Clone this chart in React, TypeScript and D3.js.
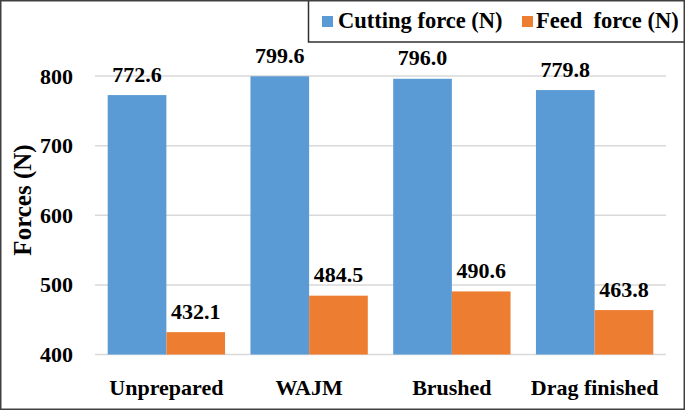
import React from "react";
import * as d3 from "d3";

const categories = ["Unprepared", "WAJM", "Brushed", "Drag finished"];
const seriesNames = ["Cutting force (N)", "Feed  force (N)"];
const cuttingForce = [772.6, 799.6, 796.0, 779.8];
const feedForce = [432.1, 484.5, 490.6, 463.8];
const yTicks = [400, 500, 600, 700, 800];
const colors = ["#5b9bd5", "#ed7d31"];

const W = 685;
const H = 410;
const txt: React.CSSProperties = { fontFamily: "Liberation Serif", fontWeight: 700, whiteSpace: "pre" };

export default function App() {
  const x = d3
    .scaleBand<string>()
    .domain(categories)
    .range([95, 666])
    .paddingInner(0.178)
    .paddingOuter(0.089);
  const xs = d3
    .scaleBand<string>()
    .domain(seriesNames)
    .range([0, x.bandwidth()]);
  const y = d3.scaleLinear().domain([400, 800]).range([354.5, 76]);
  const seriesValues = [cuttingForce, feedForce];

  return (
    <svg
      width={W}
      height={H}
      style={{ position: "absolute", left: 0, top: 0 }}
    >
      <rect x={0} y={0} width={W} height={H} fill="#fff" />
      {yTicks.map((t) => (
        <line
          key={t}
          x1={95}
          x2={666}
          y1={y(t)}
          y2={y(t)}
          stroke="#d9d9d9"
          strokeWidth={1.5}
        />
      ))}
      {yTicks.map((t) => (
        <text
          key={"l" + t}
          x={73}
          y={y(t) + 7.5}
          textAnchor="end"
          fontSize={22}
          fill="#000"
          style={txt}
        >
          {t}
        </text>
      ))}
      {categories.map((c, i) =>
        seriesNames.map((s, j) => {
          const v = seriesValues[j][i];
          const bx = (x(c) ?? 0) + (xs(s) ?? 0);
          return (
            <g key={c + s}>
              <rect
                x={bx}
                y={y(v)}
                width={xs.bandwidth()}
                height={y(400) - y(v)}
                fill={colors[j]}
              />
              <text
                x={bx + xs.bandwidth() / 2}
                y={y(v) - 13.5}
                textAnchor="middle"
                fontSize={22}
                fill="#000"
                style={txt}
              >
                {v.toFixed(1)}
              </text>
            </g>
          );
        })
      )}
      {categories.map((c) => (
        <text
          key={"c" + c}
          x={(x(c) ?? 0) + x.bandwidth() / 2}
          y={395}
          textAnchor="middle"
          fontSize={22}
          fill="#000"
          style={txt}
        >
          {c}
        </text>
      ))}
      <text
        transform="translate(31,200) rotate(-90)"
        textAnchor="middle"
        fontSize={25}
        fill="#000"
        style={txt}
      >
        Forces (N)
      </text>
      <rect
        x={308.5}
        y={-2}
        width={380}
        height={44}
        fill="#fff"
        stroke="#303030"
        strokeWidth={1.5}
      />
      <rect x={322} y={16} width={11} height={11} fill={colors[0]} />
      <text x={338} y={27.5} fontSize={22.5} fill="#000" style={txt}>
        {seriesNames[0]}
      </text>
      <rect x={522} y={16} width={11} height={11} fill={colors[1]} />
      <text x={536} y={27.5} fontSize={22.5} fill="#000" style={txt}>
        {seriesNames[1]}
      </text>
      <rect
        x={0.75}
        y={0.75}
        width={W - 1.5}
        height={H - 1.5}
        fill="none"
        stroke="#404040"
        strokeWidth={1.5}
      />
    </svg>
  );
}
